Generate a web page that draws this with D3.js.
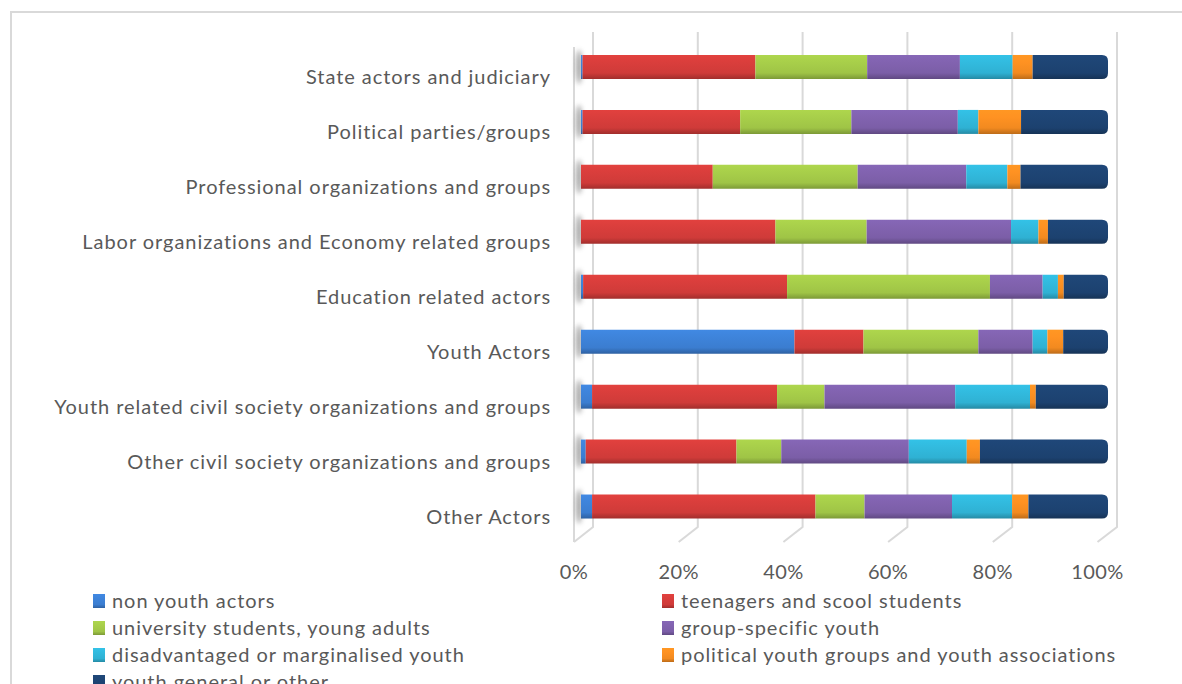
<!DOCTYPE html>
<html>
<head>
<meta charset="utf-8">
<script src="https://cdn.jsdelivr.net/npm/d3@7"></script>
<style>
  html, body { margin: 0; padding: 0; background: #ffffff; }
  svg { display: block; font-family: Lato, "Open Sans", sans-serif; }
</style>
</head>
<body>
<svg id="chart" width="1182" height="684"></svg>
<script>
// Actor categories, top to bottom
const categories = [
  "State actors and judiciary",
  "Political parties/groups",
  "Professional organizations and groups",
  "Labor organizations and Economy related groups",
  "Education related actors",
  "Youth Actors",
  "Youth related civil society organizations and groups",
  "Other civil society organizations and groups",
  "Other Actors"
];

// Series names (legend order = stacking order)
const seriesNames = [
  "non youth actors",
  "teenagers and scool students",
  "university students, young adults",
  "group-specific youth",
  "disadvantaged or marginalised youth",
  "political youth groups and youth associations",
  "youth general or other"
];

// Shares (%) per category, one array per series
const nonYouthActors   = [0.3, 0.3, 0.0, 0.0, 0.4, 40.5, 2.1, 0.9, 2.1];
const teenagers        = [32.8, 29.9, 25.0, 36.9, 38.7, 13.1, 35.1, 28.6, 42.4];
const universityYoung  = [21.2, 21.1, 27.5, 17.3, 38.5, 21.8, 9.0, 8.5, 9.3];
const groupSpecific    = [17.6, 20.2, 20.6, 27.4, 10.0, 10.3, 24.8, 24.2, 16.6];
const disadvantaged    = [10.0, 3.9, 7.8, 5.2, 2.9, 2.8, 14.2, 11.0, 11.4];
const politicalYouth   = [3.8, 8.1, 2.5, 1.8, 1.1, 3.0, 1.1, 2.5, 3.1];
const youthGeneral     = [14.3, 16.5, 16.6, 11.4, 8.4, 8.5, 13.7, 24.3, 15.1];

const tickValues = [0, 0.2, 0.4, 0.6, 0.8, 1];

const seriesValues = [nonYouthActors, teenagers, universityYoung, groupSpecific,
                      disadvantaged, politicalYouth, youthGeneral];
const colors = ["#3b7dd0", "#cf3b39", "#9fc446", "#7b5ea7", "#2fb1d3", "#f28a20", "#1c416f"];

const rows = categories.map((c, i) => {
  const r = { category: c };
  seriesNames.forEach((s, j) => { r[s] = seriesValues[j][i]; });
  return r;
});

const stacked = d3.stack().keys(seriesNames).offset(d3.stackOffsetExpand)(rows);

const svg = d3.select("#chart");
const defs = svg.append("defs");

// shaded fills giving the bars a rounded, lit look
colors.forEach((c, i) => {
  const base = d3.color(c);
  const g = defs.append("linearGradient").attr("id", "grad" + i)
    .attr("x1", 0).attr("y1", 0).attr("x2", 0).attr("y2", 1);
  g.append("stop").attr("offset", "0%").attr("stop-color", base.brighter(0.25).formatHex());
  g.append("stop").attr("offset", "30%").attr("stop-color", base.brighter(0.15).formatHex());
  g.append("stop").attr("offset", "75%").attr("stop-color", base.formatHex());
  g.append("stop").attr("offset", "100%").attr("stop-color", base.darker(0.7).formatHex());
});
defs.append("filter").attr("id", "soft").attr("x", "-2").attr("y", "-1").attr("width", "5").attr("height", "3")
  .append("feGaussianBlur").attr("stdDeviation", 2.5);

// outer chart frame
svg.append("path")
  .attr("d", "M11,690 L11,12 L1190,12")
  .attr("fill", "none").attr("stroke", "#d9d9d9").attr("stroke-width", 2);

// scales: front floor edge, back wall, and the bars themselves
const xFront = d3.scaleLinear().domain([0, 1]).range([574, 1097.5]);
const xBack  = d3.scaleLinear().domain([0, 1]).range([593, 1117]);
const xBar   = d3.scaleLinear().domain([0, 1]).range([581, 1108]);
const wallTop = 32, floorBack = 527, floorFront = 542;

const y = d3.scaleBand().domain(categories).range([39.5, 534])
  .paddingInner(0.563).paddingOuter(0.2815);

// back-wall gridlines and floor diagonals
const grid = svg.append("g").attr("stroke", "#d9d9d9").attr("stroke-width", 2).attr("fill", "none");
grid.selectAll("path.gl").data(tickValues).join("path").attr("class", "gl")
  .attr("d", d => `M${xBack(d)},${wallTop} L${xBack(d)},${floorBack} L${xFront(d)},${floorFront}`);
// left wall front edge
grid.append("path").attr("d", `M${xFront(0)},${wallTop + 15} L${xFront(0)},${floorFront}`);

// bar shadows on the side wall
svg.append("g").selectAll("ellipse").data(categories).join("ellipse")
  .attr("cx", 579).attr("cy", d => y(d) + y.bandwidth() / 2)
  .attr("rx", 3).attr("ry", 17)
  .attr("fill", "#555").attr("opacity", 0.55).attr("filter", "url(#soft)");

// stacked bars
const bars = svg.append("g");
stacked.forEach((layer, li) => {
  const isLast = li === stacked.length - 1;
  bars.append("g").attr("fill", `url(#grad${li})`)
    .selectAll("path").data(layer).join("path")
    .attr("d", d => {
      const x0 = xBar(d[0]), x1 = xBar(d[1]);
      const y0 = y(d.data.category), h = y.bandwidth();
      if (x1 - x0 <= 0) return "";
      if (isLast) {
        const r = 6;
        return `M${x0},${y0} L${x1 - r},${y0} Q${x1},${y0} ${x1},${y0 + r} L${x1},${y0 + h - r} Q${x1},${y0 + h} ${x1 - r},${y0 + h} L${x0},${y0 + h} Z`;
      }
      return `M${x0},${y0} L${x1},${y0} L${x1},${y0 + h} L${x0},${y0 + h} Z`;
    });
});

// category labels
svg.append("g").attr("fill", "#595959").attr("font-size", 20).attr("text-anchor", "end")
  .attr("letter-spacing", "0.95px")
  .selectAll("text").data(categories).join("text")
  .attr("x", 551).attr("y", d => y(d) + y.bandwidth() / 2 + 10).attr("dy", "0.35em")
  .text(d => d);

// percentage axis labels
const fmt = d3.format(".0%");
svg.append("g").attr("fill", "#595959").attr("font-size", 20).attr("text-anchor", "middle")
  .attr("letter-spacing", "0.4px")
  .selectAll("text").data(tickValues).join("text")
  .attr("x", d => xFront(d)).attr("y", 572).attr("dy", "0.35em")
  .text(d => fmt(d));

// legend
const legend = svg.append("g").attr("font-size", 20).attr("fill", "#595959")
  .attr("letter-spacing", "0.95px");
const legItems = legend.selectAll("g").data(seriesNames).join("g")
  .attr("transform", (d, i) => `translate(${i % 2 === 0 ? 93 : 662},${601 + Math.floor(i / 2) * 27})`);
legItems.append("rect").attr("x", 0).attr("y", -7).attr("width", 12).attr("height", 14)
  .attr("fill", (d, i) => `url(#grad${i})`);
legItems.append("text").attr("x", 19).attr("y", 0).attr("dy", "0.35em").text(d => d);
</script>
</body>
</html>
